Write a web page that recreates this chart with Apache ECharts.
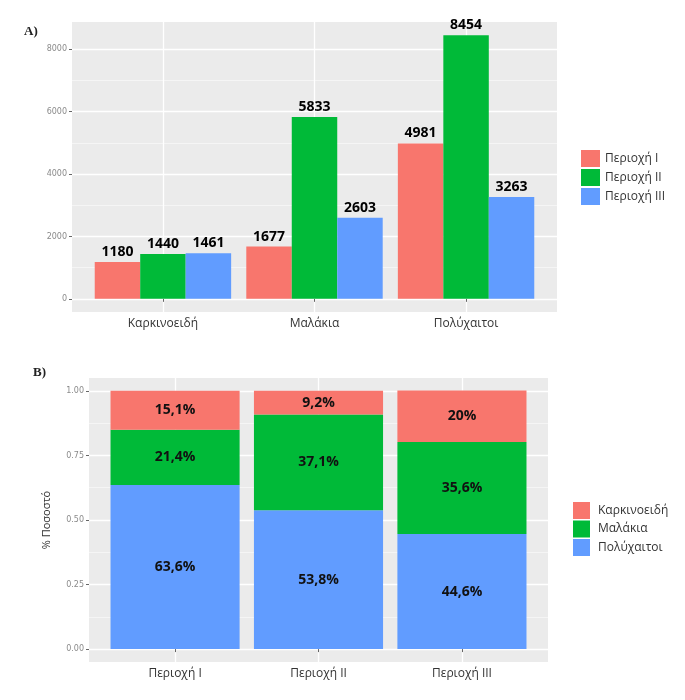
<!DOCTYPE html>
<html><head><meta charset="utf-8">
<script src="https://cdn.jsdelivr.net/npm/echarts@6/dist/echarts.min.js"></script>
<style>html,body{margin:0;padding:0;background:#fff}#c{width:685px;height:700px}</style>
</head><body><div id="c"></div>
<script>
// ---- data ----
const groups = ['Καρκινοειδή', 'Μαλάκια', 'Πολύχαιτοι'];
const groupPos = [1, 2, 3];
const regions = ['Περιοχή I', 'Περιοχή II', 'Περιοχή III'];
const regionPos = [1, 2, 3];
const region1Counts = [1180, 1677, 4981];
const region2Counts = [1440, 5833, 8454];
const region3Counts = [1461, 2603, 3263];
const countTicks = [0, 2000, 4000, 6000, 8000];
const countMinorTicks = [1000, 3000, 5000, 7000];
const carcinoPct = [15.1, 9.2, 20];
const molluscPct = [21.4, 37.1, 35.6];
const polychaetePct = [63.6, 53.8, 44.6];
const fracTicks = [0, 0.25, 0.5, 0.75, 1];
const fracMinorTicks = [0.125, 0.375, 0.625, 0.875];

// ---- style / layout ----
const RED = '#F8766D', GREEN = '#00BA38', BLUE = '#619CFF';
const PANEL = '#EBEBEB';
const FONT = 'Open Sans';
const W = 685;
const tickLabel = { fontFamily: 'DejaVu Sans', fontSize: 8, color: '#8a8a8a', margin: 5 };
// panel B
const pB = { left: 89, top: 378, right: 137, bottom: 38 };
const unitB = (W - pB.left - pB.right) / 3.2;
const barsB = { left: pB.left + 0.1 * unitB, top: pB.top, right: pB.right + 0.1 * unitB, bottom: pB.bottom };

const pairs = (pos, vals) => pos.map((p, i) => [p, vals[i]]);
const pctLabel = v => String(v).replace('.', ',') + '%';

const countMax = Math.max(...region1Counts, ...region2Counts, ...region3Counts);
const cPad = countMax * 0.05;

function xAxisCat(gridIndex, posArr, names) {
  return {
    type: 'value', gridIndex, min: 0.4, max: 3.6,
    axisLine: { show: false },
    axisTick: { show: true, length: 3, customValues: posArr, lineStyle: { color: '#666', width: 1 } },
    axisLabel: { show: true, customValues: posArr, margin: 6, fontFamily: FONT, fontSize: 12, color: '#333',
      formatter: v => { const i = posArr.indexOf(v); return i >= 0 ? names[i] : ''; } },
    splitLine: { show: true, lineStyle: { color: '#fff', width: 1.3 } }
  };
}
function yAxisMain(gridIndex, min, max, ticks, fmt) {
  return {
    type: 'value', gridIndex, min, max,
    axisLine: { show: false },
    axisTick: { show: true, length: 3, customValues: ticks, lineStyle: { color: '#666', width: 1 } },
    axisLabel: Object.assign({ customValues: ticks, formatter: fmt }, tickLabel),
    splitLine: { show: true, lineStyle: { color: '#fff', width: 1.3 } }
  };
}
function yAxisMinor(gridIndex, min, max, ticks) {
  return {
    type: 'value', gridIndex, min, max, position: 'left',
    axisLine: { show: false },
    axisTick: { show: false, customValues: ticks },
    axisLabel: { show: false, customValues: ticks },
    splitLine: { show: true, lineStyle: { color: '#F7F7F7', width: 0.8 } }
  };
}

const barLabelA = { show: true, position: 'top', distance: 3, fontFamily: FONT, fontWeight: 'bold', fontSize: 14, color: '#000',
  formatter: p => p.value[1] };
const barLabelB = { show: true, position: 'inside', fontFamily: FONT, fontWeight: 'bold', fontSize: 14, color: '#111',
  formatter: p => pctLabel(Math.round(p.value * 1000) / 10) };

const chart = echarts.init(document.getElementById('c'), null, { renderer: 'canvas' });
chart.setOption({
  backgroundColor: '#fff',
  animation: false,
  title: [
    { text: 'A)', left: 19, top: 20, textStyle: { fontFamily: 'Liberation Serif', fontWeight: 'bold', fontSize: 13, color: '#222' } },
    { text: 'B)', left: 28, top: 361, textStyle: { fontFamily: 'Liberation Serif', fontWeight: 'bold', fontSize: 13, color: '#222' } }
  ],
  grid: [
    { left: 72, top: 22, right: 128, bottom: 388, show: true, backgroundColor: PANEL, borderWidth: 0 },
    Object.assign({ show: true, backgroundColor: PANEL, borderWidth: 0 }, pB),
    Object.assign({ show: false }, barsB)
  ],
  xAxis: [
    xAxisCat(0, groupPos, groups),
    xAxisCat(1, regionPos, regions),
    { type: 'category', gridIndex: 2, data: regions, show: false }
  ],
  yAxis: [
    yAxisMain(0, -cPad, countMax + cPad, countTicks, v => String(v)),
    yAxisMinor(0, -cPad, countMax + cPad, countMinorTicks),
    Object.assign(yAxisMain(1, -0.05, 1.05, fracTicks, v => v.toFixed(2)), {
      name: '% Ποσοστό', nameLocation: 'middle', nameGap: 37,
      nameTextStyle: { fontFamily: FONT, fontSize: 11, color: '#333' }
    }),
    yAxisMinor(1, -0.05, 1.05, fracMinorTicks),
    { type: 'value', gridIndex: 2, min: -0.05, max: 1.05, show: false, splitLine: { show: false } }
  ],
  legend: [
    { data: regions, orient: 'vertical', left: 576, top: 145, icon: 'rect', itemWidth: 19, itemHeight: 17, itemGap: 2,
      itemStyle: { borderWidth: 0 }, textStyle: { fontFamily: FONT, fontSize: 12, color: '#333' }, selectedMode: false },
    { data: groups, orient: 'vertical', left: 568, top: 497, icon: 'rect', itemWidth: 17, itemHeight: 17, itemGap: 1.5,
      itemStyle: { borderWidth: 0 }, textStyle: { fontFamily: FONT, fontSize: 12, color: '#333', padding: [0, 0, 0, 3] }, selectedMode: false }
  ],
  series: [
    { name: regions[0], type: 'bar', xAxisIndex: 0, yAxisIndex: 0, data: pairs(groupPos, region1Counts),
      barGap: '0%', barCategoryGap: '10%', itemStyle: { color: RED }, label: barLabelA },
    { name: regions[1], type: 'bar', xAxisIndex: 0, yAxisIndex: 0, data: pairs(groupPos, region2Counts),
      barGap: '0%', barCategoryGap: '10%', itemStyle: { color: GREEN }, label: barLabelA },
    { name: regions[2], type: 'bar', xAxisIndex: 0, yAxisIndex: 0, data: pairs(groupPos, region3Counts),
      barGap: '0%', barCategoryGap: '10%', itemStyle: { color: BLUE }, label: barLabelA },

    { name: groups[2], type: 'bar', stack: 'frac', xAxisIndex: 2, yAxisIndex: 4,
      data: polychaetePct.map(v => v / 100), barCategoryGap: '10%',
      itemStyle: { color: BLUE }, label: barLabelB },
    { name: groups[1], type: 'bar', stack: 'frac', xAxisIndex: 2, yAxisIndex: 4,
      data: molluscPct.map(v => v / 100), barCategoryGap: '10%',
      itemStyle: { color: GREEN }, label: barLabelB },
    { name: groups[0], type: 'bar', stack: 'frac', xAxisIndex: 2, yAxisIndex: 4,
      data: carcinoPct.map(v => v / 100), barCategoryGap: '10%',
      itemStyle: { color: RED }, label: barLabelB }
  ]
});
</script>
</body></html>
